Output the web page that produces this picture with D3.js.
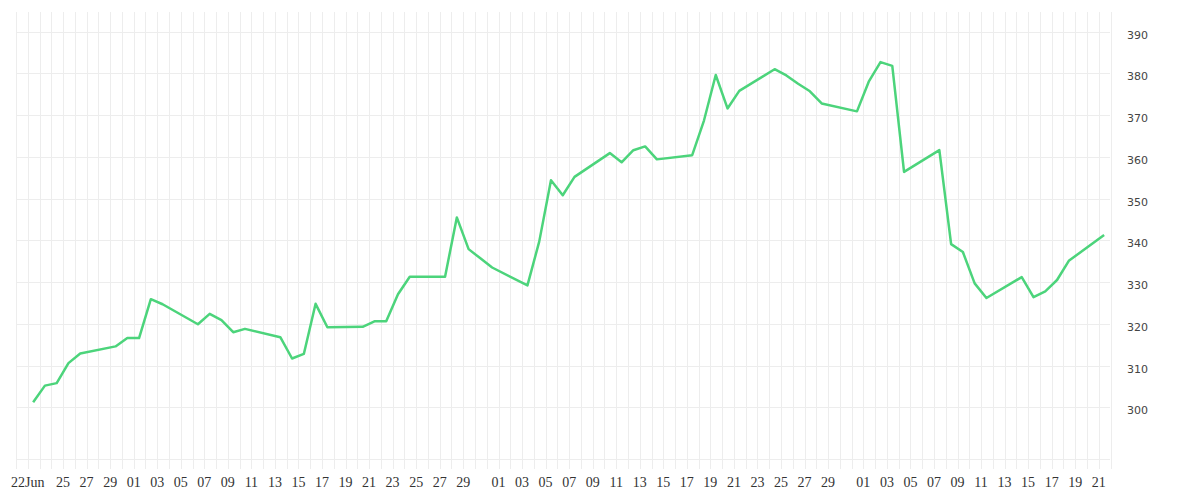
<!DOCTYPE html>
<html>
<head>
<meta charset="utf-8">
<script src="https://cdn.jsdelivr.net/npm/d3@7"></script>
<style>
  body { margin: 0; background: #fff; }
  .grid { stroke: #ededed; stroke-width: 1; shape-rendering: crispEdges; }
</style>
</head>
<body>
<div id="chart"></div>
<script>
// trading days, 2020
const dates = [
  "2020-06-22", "2020-06-23", "2020-06-24", "2020-06-25", "2020-06-26",
  "2020-06-29", "2020-06-30", "2020-07-01", "2020-07-02", "2020-07-03",
  "2020-07-06", "2020-07-07", "2020-07-08", "2020-07-09", "2020-07-10",
  "2020-07-13", "2020-07-14", "2020-07-15", "2020-07-16", "2020-07-17",
  "2020-07-20", "2020-07-21", "2020-07-22", "2020-07-23", "2020-07-24",
  "2020-07-27", "2020-07-28", "2020-07-29", "2020-07-30", "2020-07-31",
  "2020-08-03", "2020-08-04", "2020-08-05", "2020-08-06", "2020-08-07",
  "2020-08-10", "2020-08-11", "2020-08-12", "2020-08-13", "2020-08-14",
  "2020-08-17", "2020-08-18", "2020-08-19", "2020-08-20", "2020-08-21",
  "2020-08-24", "2020-08-25", "2020-08-26", "2020-08-27", "2020-08-28",
  "2020-08-31", "2020-09-01", "2020-09-02", "2020-09-03", "2020-09-04",
  "2020-09-07", "2020-09-08", "2020-09-09", "2020-09-10", "2020-09-11",
  "2020-09-14", "2020-09-15", "2020-09-16", "2020-09-17", "2020-09-18",
  "2020-09-21"
]
const values = [
  301.2, 305.2, 305.8, 310.6, 312.9,
  314.6, 316.6, 316.6, 325.9, 324.7,
  319.9, 322.4, 320.9, 318.0, 318.8,
  316.8, 311.7, 312.8, 324.8, 319.2,
  319.3, 320.6, 320.6, 327.1, 331.3,
  331.3, 345.5, 337.9, 335.7, 333.5,
  329.2, 339.7, 354.4, 350.8, 355.2,
  360.9, 358.7, 361.6, 362.5, 359.4,
  360.4, 368.7, 379.6, 371.6, 375.8,
  381.0, 379.5, 377.5, 375.7, 372.8,
  370.9, 378.0, 382.7, 381.8, 356.4,
  361.6, 339.1, 337.2, 329.7, 326.2,
  331.2, 326.4, 327.8, 330.5, 335.1,
  341.3
]
const xTicks = [
  "2020-06-22", "2020-06-25", "2020-06-27", "2020-06-29",
  "2020-07-01", "2020-07-03", "2020-07-05", "2020-07-07", "2020-07-09",
  "2020-07-11", "2020-07-13", "2020-07-15", "2020-07-17", "2020-07-19",
  "2020-07-21", "2020-07-23", "2020-07-25", "2020-07-27", "2020-07-29",
  "2020-08-01", "2020-08-03", "2020-08-05", "2020-08-07", "2020-08-09",
  "2020-08-11", "2020-08-13", "2020-08-15", "2020-08-17", "2020-08-19",
  "2020-08-21", "2020-08-23", "2020-08-25", "2020-08-27", "2020-08-29",
  "2020-09-01", "2020-09-03", "2020-09-05", "2020-09-07", "2020-09-09",
  "2020-09-11", "2020-09-13", "2020-09-15", "2020-09-17", "2020-09-19",
  "2020-09-21"
]
const yTicks = [300, 310, 320, 330, 340, 350, 360, 370, 380, 390]
const xDomain = ["2020-06-21", "2020-09-22"]
const yDomain = [287.7, 394.7]

function drawLineChart() {
  const parseDate = d3.timeParse("%Y-%m-%d")
  // each point sits in the middle of its day
  const dataset = dates.map((d, i) => ({
    date: d3.timeHour.offset(parseDate(d), 12),
    value: values[i]
  }))
  const xAccessor = d => d.date
  const yAccessor = d => d.value

  let dimensions = {
    width: 1200,
    height: 500,
    margin: {
      top: 12,
      right: 90,
      bottom: 41.3,
      left: 15.5,
    },
  }
  dimensions.boundedWidth = dimensions.width -
    dimensions.margin.left -
    dimensions.margin.right
  dimensions.boundedHeight = dimensions.height -
    dimensions.margin.top -
    dimensions.margin.bottom

  const wrapper = d3.select("#chart")
    .append("svg")
    .attr("width", dimensions.width)
    .attr("height", dimensions.height)

  const bounds = wrapper.append("g")
    .attr("transform", `translate(${dimensions.margin.left}, ${dimensions.margin.top})`)

  // scales
  const xScale = d3.scaleTime()
    .domain(xDomain.map(parseDate))
    .range([0, dimensions.boundedWidth])

  const yScale = d3.scaleLinear()
    .domain(yDomain)
    .range([dimensions.boundedHeight, 0])

  // grids
  const days = d3.timeDay.range(xScale.domain()[0], d3.timeDay.offset(xScale.domain()[1], 1))
  bounds.append("g")
    .selectAll("line")
    .data(days)
    .join("line")
      .attr("class", "grid")
      .attr("x1", d => Math.round(xScale(d)) + 0.5)
      .attr("x2", d => Math.round(xScale(d)) + 0.5)
      .attr("y1", 0)
      .attr("y2", dimensions.boundedHeight + 10)

  bounds.append("g")
    .selectAll("line")
    .data(yTicks.concat([yDomain[0]]))
    .join("line")
      .attr("class", "grid")
      .attr("x1", 0)
      .attr("x2", dimensions.boundedWidth)
      .attr("y1", d => Math.round(yScale(d)) + 0.5)
      .attr("y2", d => Math.round(yScale(d)) + 0.5)

  // line
  const lineGenerator = d3.line()
    .x(d => xScale(xAccessor(d)))
    .y(d => yScale(yAccessor(d)))

  bounds.append("path")
    .attr("d", lineGenerator(dataset))
    .attr("fill", "none")
    .attr("stroke", "#4cd47b")
    .attr("stroke-width", 2.5)
    .attr("stroke-linejoin", "round")

  // y axis (right)
  const yAxisGenerator = d3.axisRight()
    .scale(yScale)
    .tickValues(yTicks)
    .tickSize(0)
    .tickPadding(0)
  const yAxis = bounds.append("g")
    .call(yAxisGenerator)
    .attr("transform", `translate(${dimensions.boundedWidth + 17}, 0)`)
  yAxis.select(".domain").remove()
  yAxis.selectAll("text")
    .attr("x", 0)
    .attr("dy", "0.6em")
    .attr("fill", "#444")
    .style("font-family", "'DejaVu Sans', sans-serif")
    .style("font-size", "11px")

  // x axis
  const fmtFirst = d3.timeFormat("%d%b")
  const fmtDay = d3.timeFormat("%d")
  const xAxisGenerator = d3.axisBottom()
    .scale(xScale)
    .tickValues(xTicks.map(parseDate))
    .tickFormat((d, i) => i === 0 ? fmtFirst(d) : fmtDay(d))
    .tickSize(0)
    .tickPadding(0)
  const xAxis = bounds.append("g")
    .call(xAxisGenerator)
    .attr("transform", `translate(0, ${dimensions.boundedHeight})`)
  xAxis.select(".domain").remove()
  xAxis.selectAll("text")
    .attr("y", 28.5)
    .attr("dy", 0)
    .attr("fill", "#333")
    .style("font-family", "'Liberation Serif', serif")
    .style("font-size", "14px")
}
drawLineChart()
</script>
</body>
</html>
